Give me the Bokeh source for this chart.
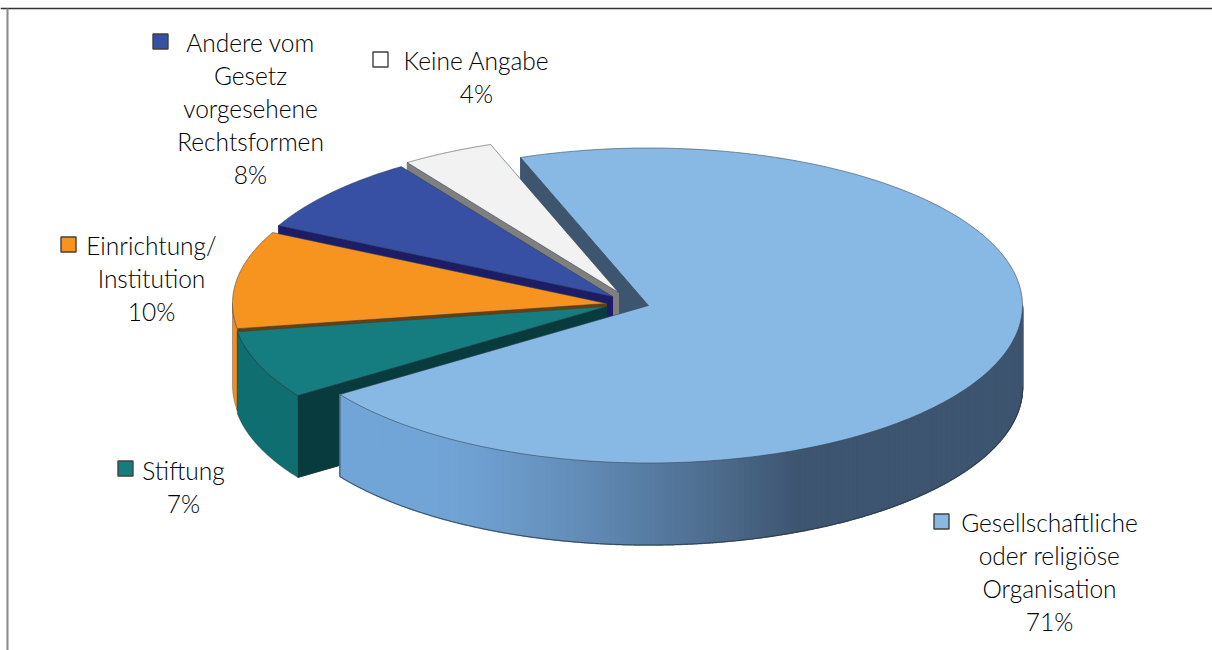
import math
from bokeh.embed import file_html
from bokeh.models import Range1d
from bokeh.plotting import figure
from bokeh.resources import INLINE
from bokeh.core.properties import value

# Share of each legal form, in percent
categories = ["Gesellschaftliche oder religiöse Organisation", "Stiftung", "Einrichtung/Institution",
              "Andere vom Gesetz vorgesehene Rechtsformen", "Keine Angabe"]
shares = [71, 7, 10, 8, 4]
label_lines = [["Gesellschaftliche", "oder religiöse", "Organisation", "71%"],
               ["Stiftung", "7%"],
               ["Einrichtung/", "Institution", "10%"],
               ["Andere vom", "Gesetz", "vorgesehene", "Rechtsformen", "8%"],
               ["Keine Angabe", "4%"]]
top_colors = ["#88b8e4", "#157d7f", "#f79420", "#3750a3", "#f2f2f2"]
side_colors = ["#3e5570", "#083b3d", "#6b4008", "#1c1d66", "#7f7f7f"]
wall_colors = ["#3e5570", "#0f6f70", "#f08f1c", "#1c1d66", "#7f7f7f"]

# Drawing geometry of the tilted pie, in page pixels
RX, RY, DEPTH = 374, 157.5, 82
START_DEG = 110.0
centres = [(648, 305), (606, 306), (606, 303), (612, 296), (618, 292)]
text_anchor = [(1049, 522), (183, 470), (151, 245), (250, 42), (476, 60)]
key_pos = [(941, 521), (125, 468), (68, 244), (160, 41), (380, 59)]
line_step = 33

W, H = 1212, 650
p = figure(width=W, height=H, x_range=Range1d(0, W), y_range=Range1d(H, 0),
           toolbar_location=None, output_backend="svg", min_border=0,
           outline_line_color=None, background_fill_color="white", border_fill_color="white")
p.axis.visible = False
p.grid.visible = False


def arc_points(cx, cy, a0, a1, n=80, dy=0):
    pts = [a0 + (a1 - a0) * i / n for i in range(n + 1)]
    return ([cx + RX * math.cos(math.radians(t)) for t in pts],
            [cy + dy - RY * math.sin(math.radians(t)) for t in pts])


def radial_wall(i, angle, colour):
    cx, cy = centres[i]
    ex = cx + RX * math.cos(math.radians(angle))
    ey = cy - RY * math.sin(math.radians(angle))
    p.patch([cx, ex, ex, cx], [cy, ey, ey + DEPTH, cy + DEPTH],
            fill_color=colour, line_color=colour, line_width=1)


def top_face(i, a0, a1):
    cx, cy = centres[i]
    xs, ys = arc_points(cx, cy, a0, a1, n=200)
    p.patch([cx] + xs, [cy] + ys, fill_color=top_colors[i], line_color="#33414f",
            line_width=0.8, line_alpha=0.7)


def outer_wall(i, a0, a1, colour):
    cx, cy = centres[i]
    xs, ys = arc_points(cx, cy, a0, a1)
    xb, yb = arc_points(cx, cy, a1, a0, dy=DEPTH)
    p.patch(xs + xb, ys + yb, fill_color=colour, line_color="#2a3440", line_width=0.6, line_alpha=0.6)


def mix(c0, c1, t):
    a = [int(c0[k:k + 2], 16) for k in (1, 3, 5)]
    b = [int(c1[k:k + 2], 16) for k in (1, 3, 5)]
    return "#%02x%02x%02x" % tuple(round(u + (v - u) * t) for u, v in zip(a, b))


# Angular extent of every slice, running clockwise from the start angle
spans = []
angle = START_DEG
for s in shares:
    spans.append((angle, angle - 360 * s / sum(shares)))
    angle = spans[-1][1]

# The back wall of the largest slice sits behind all the smaller ones
radial_wall(0, spans[0][0], side_colors[0])

# Smaller slices, from the back to the front
for i in (4, 3, 2, 1):
    a0, a1 = spans[i]
    radial_wall(i, a0, side_colors[i])
    if a0 % 360 > 180:
        outer_wall(i, a0 % 360, max(a1 % 360, 180), wall_colors[i])
    top_face(i, a0, a1)

# Front wall of the largest slice, shaded in narrow strips from light to dark
a0, a1 = spans[0]
cx, cy = centres[0]
steps = 420
front_start = a1 + 360
for k in range(steps):
    t0 = front_start + (360 - front_start) * k / steps
    t1 = front_start + (360 - front_start) * (k + 1) / steps
    x_mid = cx + RX * math.cos(math.radians((t0 + t1) / 2))
    f = min(1, max(0, (x_mid - 430) / 370)) ** 1.3
    col = mix("#72a5d7", "#3e5570", f)
    xs, ys = arc_points(cx, cy, t0, t1, n=2)
    xb, yb = arc_points(cx, cy, t1, t0, n=2, dy=DEPTH)
    p.patch(xs + xb, ys + yb, fill_color=col, line_color=col, line_width=1.5, line_join="bevel")

# Outline of that wall: left edge and lower rim
xb, yb = arc_points(cx, cy, front_start, 360, n=200, dy=DEPTH)
xt, yt = arc_points(cx, cy, front_start, front_start, n=1)
p.line([xt[0]] + xb, [yt[0]] + yb, line_color="#2a3440", line_width=1, line_alpha=0.8)
top_face(0, a0, a1)

# Frame around the chart
p.line([0, W], [8, 8], line_color="#333333", line_width=1.5)
p.line([7, 7], [8, H], line_color="#888888", line_width=2)

# Data labels with their colour keys
for i, lines in enumerate(label_lines):
    kx, ky = key_pos[i]
    p.scatter([kx], [ky], marker="square", size=15, fill_color=top_colors[i] if i != 4 else "#ffffff",
              line_color="#404040", line_width=1.4)
    ax, ay = text_anchor[i]
    p.text([ax] * len(lines), [ay + line_step * j for j in range(len(lines))], text=lines,
           text_font=value("Lato Light"), text_font_size="24.5px", text_color="#000000",
           text_align="center", text_baseline="middle")

open("out.html", "w").write(file_html(p, INLINE))
